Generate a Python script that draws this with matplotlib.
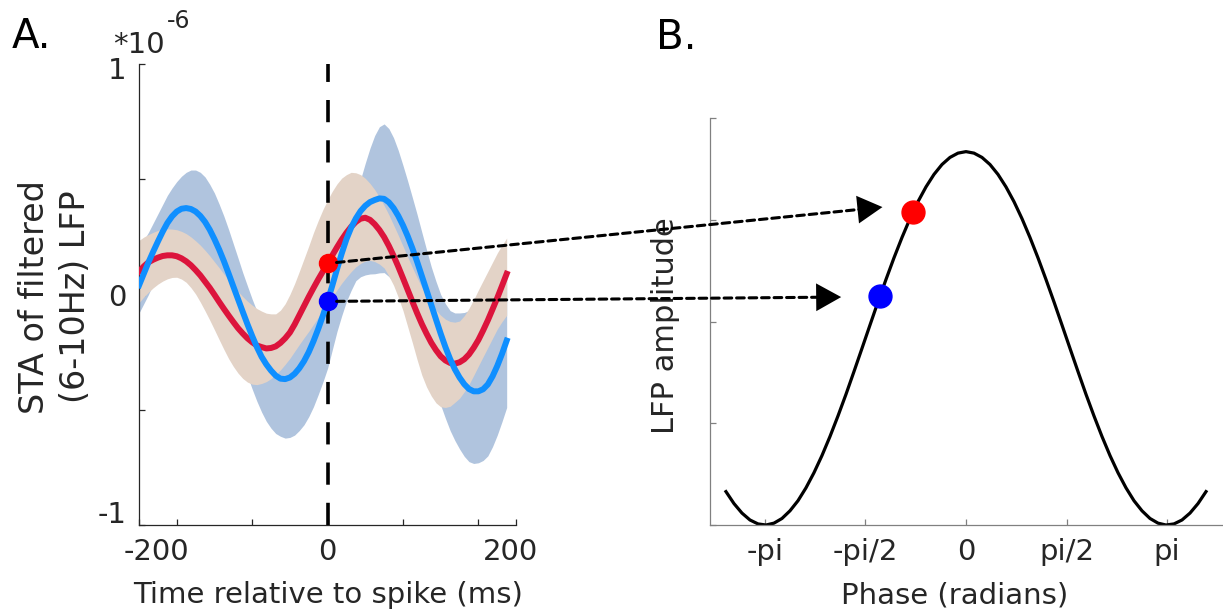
import numpy as np
import matplotlib.pyplot as plt
from matplotlib.patches import ConnectionPatch
from matplotlib.transforms import ScaledTranslation

plt.rcParams['font.family'] = 'DejaVu Sans'
plt.rcParams['lines.scale_dashes'] = False

# ---- panel A: spike-triggered average of theta-filtered LFP (x1e-6) ----
time_ms = np.arange(-200, 191, 5)  # -200 ... 190 ms

blue_mean = [0.04, 0.09, 0.14, 0.186, 0.23, 0.272, 0.31, 0.339, 0.36, 0.372,
             0.375, 0.371, 0.36, 0.341, 0.315, 0.281, 0.24, 0.195, 0.145, 0.091,
             0.035, -0.02, -0.075, -0.129, -0.18, -0.228, -0.27, -0.303, -0.33, -0.352,
             -0.365, -0.367, -0.36, -0.344, -0.32, -0.289, -0.25, -0.203, -0.15, -0.092,
             -0.03, 0.039, 0.11, 0.178, 0.24, 0.29, 0.33, 0.362, 0.385, 0.401,
             0.41, 0.417, 0.415, 0.40, 0.375, 0.341, 0.30, 0.253, 0.20, 0.142,
             0.08, 0.018, -0.045, -0.108, -0.17, -0.228, -0.28, -0.324, -0.36, -0.389,
             -0.41, -0.42, -0.42, -0.411, -0.39, -0.355, -0.31, -0.258, -0.20]
blue_upper = [0.20, 0.235, 0.27, 0.31, 0.35, 0.39, 0.43, 0.462, 0.49, 0.513,
              0.53, 0.54, 0.54, 0.53, 0.51, 0.478, 0.44, 0.392, 0.34, 0.282,
              0.22, 0.158, 0.095, 0.037, -0.02, -0.072, -0.12, -0.153, -0.18, -0.193,
              -0.20, -0.198, -0.19, -0.172, -0.15, -0.117, -0.08, -0.04, 0.0, 0.045,
              0.09, 0.138, 0.19, 0.243, 0.30, 0.363, 0.43, 0.50, 0.57, 0.635,
              0.69, 0.728, 0.74, 0.72, 0.68, 0.625, 0.56, 0.492, 0.42, 0.347,
              0.27, 0.194, 0.12, 0.057, 0.0, -0.04, -0.07, -0.08, -0.08, -0.078,
              -0.07, -0.052, -0.03, -0.005, 0.02, 0.04, 0.06, 0.08, 0.10]
blue_lower = [-0.08, -0.04, 0.0, 0.047, 0.09, 0.128, 0.16, 0.186, 0.205, 0.214,
              0.215, 0.205, 0.19, 0.165, 0.135, 0.095, 0.05, -0.001, -0.055, -0.115,
              -0.175, -0.235, -0.295, -0.353, -0.41, -0.463, -0.51, -0.55, -0.58, -0.603,
              -0.615, -0.623, -0.62, -0.61, -0.59, -0.565, -0.53, -0.487, -0.435, -0.38,
              -0.32, -0.24, -0.16, -0.092, -0.03, 0.018, 0.06, 0.077, 0.085, 0.089,
              0.09, 0.094, 0.095, 0.078, 0.055, 0.02, -0.02, -0.068, -0.12, -0.178,
              -0.24, -0.297, -0.355, -0.418, -0.48, -0.537, -0.59, -0.633, -0.67, -0.702,
              -0.725, -0.733, -0.73, -0.72, -0.70, -0.66, -0.61, -0.552, -0.49]

red_mean = [0.10, 0.122, 0.14, 0.151, 0.16, 0.167, 0.17, 0.17, 0.166, 0.157,
            0.144, 0.127, 0.106, 0.083, 0.056, 0.029, -0.001, -0.032, -0.062, -0.091,
            -0.119, -0.146, -0.169, -0.19, -0.207, -0.221, -0.228, -0.234, -0.232, -0.225,
            -0.21, -0.19, -0.165, -0.13, -0.09, -0.05, -0.01, 0.028, 0.065, 0.10,
            0.135, 0.17, 0.205, 0.238, 0.268, 0.294, 0.315, 0.329, 0.333, 0.324,
            0.305, 0.28, 0.249, 0.211, 0.168, 0.121, 0.071, 0.02, -0.031, -0.081,
            -0.128, -0.17, -0.209, -0.241, -0.268, -0.286, -0.297, -0.30, -0.294, -0.281,
            -0.26, -0.231, -0.197, -0.156, -0.112, -0.064, -0.015, 0.037, 0.09]
red_upper = [0.235, 0.249, 0.26, 0.27, 0.278, 0.283, 0.285, 0.284, 0.281, 0.274,
             0.264, 0.25, 0.233, 0.214, 0.192, 0.168, 0.142, 0.116, 0.089, 0.063,
             0.038, 0.014, -0.009, -0.029, -0.046, -0.061, -0.072, -0.081, -0.084, -0.084,
             -0.068, -0.04, 0.0, 0.047, 0.10, 0.155, 0.21, 0.268, 0.32, 0.368,
             0.41, 0.448, 0.48, 0.505, 0.52, 0.53, 0.528, 0.52, 0.504, 0.482,
             0.455, 0.423, 0.386, 0.346, 0.302, 0.257, 0.21, 0.163, 0.117, 0.073,
             0.031, -0.006, -0.04, -0.068, -0.09, -0.107, -0.117, -0.12, -0.115, -0.092,
             -0.06, -0.022, 0.02, 0.06, 0.10, 0.14, 0.18, 0.214, 0.245]
red_lower = [-0.035, -0.011, 0.01, 0.029, 0.045, 0.058, 0.068, 0.074, 0.075, 0.067,
             0.053, 0.03, 0.002, -0.033, -0.071, -0.111, -0.153, -0.196, -0.238, -0.278,
             -0.312, -0.341, -0.364, -0.38, -0.389, -0.391, -0.386, -0.378, -0.365, -0.347,
             -0.327, -0.303, -0.277, -0.247, -0.217, -0.188, -0.16, -0.13, -0.10, -0.07,
             -0.04, -0.01, 0.02, 0.049, 0.075, 0.099, 0.12, 0.135, 0.145, 0.148,
             0.143, 0.132, 0.115, 0.08, 0.04, -0.012, -0.07, -0.14, -0.21, -0.283,
             -0.35, -0.401, -0.44, -0.47, -0.487, -0.49, -0.485, -0.468, -0.45, -0.422,
             -0.39, -0.351, -0.31, -0.27, -0.23, -0.19, -0.15, -0.118, -0.09]

# ---- panel B: schematic LFP cycle ----
phase = np.round(np.arange(-3.75, 3.751, 0.125), 3)
lfp_amp = [-0.821, -0.885, -0.936, -0.973, -0.994, -1.000, -0.990, -0.965, -0.924, -0.870,
           -0.801, -0.720, -0.628, -0.526, -0.416, -0.300, -0.178, -0.054, 0.071, 0.195,
           0.315, 0.431, 0.540, 0.641, 0.732, 0.811, 0.878, 0.931, 0.969, 0.992,
           1.000,
           0.992, 0.969, 0.931, 0.878, 0.811, 0.732, 0.641, 0.540, 0.431, 0.315,
           0.195, 0.071, -0.054, -0.178, -0.300, -0.416, -0.526, -0.628, -0.720, -0.801,
           -0.870, -0.924, -0.965, -0.990, -1.000, -0.994, -0.973, -0.936, -0.885, -0.821]
spike_phase = [-0.83, -1.34]     # red, blue
spike_amp = [0.675, 0.229]

txt = '#262626'
fig = plt.figure(figsize=(12.23, 6.16), dpi=100)
axA = fig.add_axes([0.1137, 0.1477, 0.3083, 0.7484])
axB = fig.add_axes([0.5805, 0.1477, 0.4187, 0.6607])

# panel A
axA.fill_between(time_ms, blue_lower, blue_upper, color='#B0C4DE', lw=0, zorder=1)
axA.fill_between(time_ms, red_lower, red_upper, color='#E3D3C7', lw=0, zorder=2)
axA.axvline(0, color='black', lw=2.6, ls=(0, (16, 13)), zorder=3)
axA.plot(time_ms, red_mean, color='#DC143C', lw=4.3, zorder=4)
axA.plot(time_ms, blue_mean, color='#0F8FFF', lw=4.3, zorder=5)
i0 = list(time_ms).index(0)
axA.plot(0, red_mean[i0], 'o', color='red', ms=13, zorder=6)
axA.plot(0, blue_mean[i0], 'o', color='blue', ms=13, zorder=6)

axA.set_xlim(-200, 200)
axA.set_ylim(-1, 1)
axA.set_xticks([-200, 0, 200])
axA.set_xticklabels(['-200', '0', '200'])
axA.set_xticks([-160, -80, 80, 160], minor=True)
axA.set_yticks([-1, 0, 1])
axA.set_yticklabels(['-1', '0', '1'])
axA.set_yticks([-0.5, 0.5], minor=True)

axA.set_xlabel('Time relative to spike (ms)', fontsize=21, color=txt)
axA.xaxis.set_label_coords(0.5, (525 - 595) / 461)
axA.xaxis.label.set_va('center')
axA.set_ylabel('STA of filtered\n(6-10Hz) LFP', fontsize=24, color=txt, linespacing=1.3)
axA.yaxis.set_label_coords(-0.223, 0.495)
axA.yaxis.label.set_va('center')

# panel B
axB.plot(phase, lfp_amp, color='black', lw=2.3, zorder=2)
axB.plot(spike_phase[0], spike_amp[0], 'o', color='red', ms=16.5, zorder=3)
axB.plot(spike_phase[1], spike_amp[1], 'o', color='blue', ms=16.5, zorder=3)
axB.set_xlim(-4, 4)
axB.set_ylim(-1, 1.18)
axB.set_xticks([-np.pi, -np.pi / 2, 0, np.pi / 2, np.pi])
axB.set_xticklabels(['-pi', '-pi/2', '0', 'pi/2', 'pi'])
axB.set_yticks(np.linspace(-1, 1.18, 5))
axB.set_yticklabels([])
axB.set_xlabel('Phase (radians)', fontsize=21, color=txt)
axB.xaxis.set_label_coords(0.477, (525 - 595) / 407)
axB.xaxis.label.set_va('center')
axB.set_ylabel('LFP amplitude', fontsize=22, color=txt)
axB.yaxis.set_label_coords(-0.086, 0.489)
axB.yaxis.label.set_va('center')

for ax, sc in ((axA, txt), (axB, '#808080')):
    for s in ('top', 'right'):
        ax.spines[s].set_visible(False)
    for s in ('left', 'bottom'):
        ax.spines[s].set_color(sc)
        ax.spines[s].set_linewidth(0.9)
    ax.tick_params(which='both', direction='in', length=4, width=0.9, color=sc,
                   labelcolor=txt, labelsize=21, pad=9)


def nudge(label, dx, dy):
    # shift a tick label by a few pixels, like the original export
    label.set_transform(label.get_transform() +
                        ScaledTranslation(dx / 100, dy / 100, fig.dpi_scale_trans))


xl = axA.get_xticklabels()
nudge(xl[0], 17, 0)
nudge(xl[2], -6, 0)
yl = axA.get_yticklabels()
nudge(yl[0], 0, 13)
nudge(yl[2], 0, -3.5)

# arrows from STA at spike time to the matching phase of the cycle
arrow_tips = [(-1.305, 0.703), (-1.95, 0.221)]
for start, tip in zip([red_mean[i0], blue_mean[i0]], arrow_tips):
    line = ConnectionPatch(xyA=(0, start), coordsA=axA.transData,
                           xyB=tip, coordsB=axB.transData, arrowstyle='-',
                           color='black', lw=2.2, ls=(0, (5.5, 3.5)),
                           shrinkA=6.5, shrinkB=8, zorder=10)
    fig.add_artist(line)
    head = ConnectionPatch(xyA=(0, start), coordsA=axA.transData,
                           xyB=tip, coordsB=axB.transData,
                           arrowstyle='-|>,head_length=18,head_width=10',
                           mutation_scale=1, color='black', lw=0,
                           shrinkA=0, shrinkB=0, zorder=11)
    fig.add_artist(head)

fig.text(113 / 1223, 1 - 53 / 616, '*10', fontsize=21, color=txt, va='baseline')
fig.text(167 / 1223, 1 - 28 / 616, '-6', fontsize=17, color=txt, va='baseline')
fig.text(12 / 1223, 1 - 48 / 616, 'A.', fontsize=29, va='baseline')
fig.text(656 / 1223, 1 - 49 / 616, 'B.', fontsize=29, va='baseline')

fig.savefig('out.png', dpi=100)
